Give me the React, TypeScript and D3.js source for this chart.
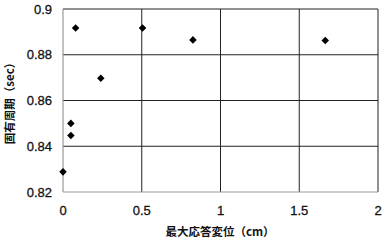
import React, { useEffect, useRef } from "react";
import * as d3 from "d3";

const xValues = [0, 0.05, 0.05, 0.08, 0.24, 0.505, 0.825, 1.665];
const yValues = [0.8288, 0.850, 0.8447, 0.8917, 0.8697, 0.8917, 0.8865, 0.8862];
const xTicks = [0, 0.5, 1, 1.5, 2];
const yTicks = [0.82, 0.84, 0.86, 0.88, 0.9];
const xTickLabels = ["0", "0.5", "1", "1.5", "2"];
const yTickLabels = ["0.82", "0.84", "0.86", "0.88", "0.9"];
const xTitle = "最大応答変位（cm）";
const yTitle = "固有周期（sec）";

const W = 389, H = 244;
const M = { left: 63, top: 9, right: 11, bottom: 52 };

export default function App() {
  const ref = useRef<SVGSVGElement>(null);
  useEffect(() => {
    const svg = d3.select(ref.current);
    svg.selectAll("*").remove();
    const x = d3.scaleLinear().domain([0, 2]).range([M.left, W - M.right]);
    const y = d3.scaleLinear().domain([0.82, 0.9]).range([H - M.bottom, M.top]);
    const cjk = "'Noto Sans CJK JP', sans-serif";
    const num = "'Liberation Sans', Arial, sans-serif";

    svg.append("rect").attr("width", W).attr("height", H).attr("fill", "#fff");

    const g = svg.append("g");
    g.selectAll(".hg").data(yTicks.slice(1)).enter().append("line")
      .attr("x1", x(0)).attr("x2", x(2))
      .attr("y1", d => y(d)).attr("y2", d => y(d))
      .attr("stroke", "#222").attr("stroke-width", 1);
    g.selectAll(".vg").data(xTicks.slice(1)).enter().append("line")
      .attr("y1", y(0.82)).attr("y2", y(0.9))
      .attr("x1", d => x(d)).attr("x2", d => x(d))
      .attr("stroke", "#222").attr("stroke-width", 1);
    g.append("line").attr("x1", x(0)).attr("x2", x(0)).attr("y1", y(0.82)).attr("y2", y(0.9))
      .attr("stroke", "#999").attr("stroke-width", 1.2);
    g.append("line").attr("x1", x(0)).attr("x2", x(2)).attr("y1", y(0.82)).attr("y2", y(0.82))
      .attr("stroke", "#999").attr("stroke-width", 1.2);

    g.selectAll(".yl").data(yTicks).enter().append("text")
      .attr("x", 52).attr("y", d => y(d)).attr("dy", "0.35em")
      .attr("text-anchor", "end").attr("font-size", 13).attr("font-family", num)
      .attr("fill", "#111").attr("stroke", "#111").attr("stroke-width", 0.3)
      .text((d, i) => yTickLabels[i]);
    g.selectAll(".xl").data(xTicks).enter().append("text")
      .attr("x", d => x(d)).attr("y", 210).attr("dy", "0.35em")
      .attr("text-anchor", "middle").attr("font-size", 13).attr("font-family", num)
      .attr("fill", "#111").attr("stroke", "#111").attr("stroke-width", 0.3)
      .text((d, i) => xTickLabels[i]);

    g.append("text").attr("x", 220).attr("y", 232).attr("dy", "0.35em")
      .attr("text-anchor", "middle").attr("font-size", 11.5).attr("font-weight", "bold")
      .attr("font-family", cjk).attr("fill", "#111").text(xTitle);
    g.append("text").attr("transform", `translate(10,${(y(0.82) + y(0.9)) / 2}) rotate(-90)`)
      .attr("dy", "0.35em").attr("text-anchor", "middle").attr("font-size", 11.5)
      .attr("font-weight", "bold").attr("font-family", cjk).attr("fill", "#111").text(yTitle);

    const sym = d3.symbol().type(d3.symbolDiamond2).size(36);
    g.selectAll(".pt").data(xValues).enter().append("path")
      .attr("d", sym as any)
      .attr("transform", (d, i) => `translate(${x(d)},${y(yValues[i])})`)
      .attr("fill", "#000");
  }, []);
  return (
    <svg ref={ref} width={W} height={H} style={{ position: "absolute", left: 0, top: 0 }} />
  );
}
